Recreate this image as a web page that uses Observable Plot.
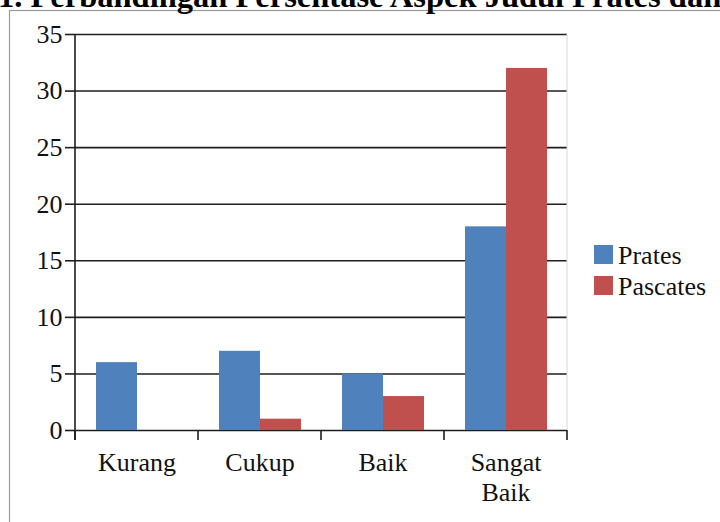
<!DOCTYPE html>
<html>
<head>
<meta charset="utf-8">
<script src="https://cdn.jsdelivr.net/npm/d3@7"></script>
<script src="https://cdn.jsdelivr.net/npm/@observablehq/plot@0.6"></script>
<style>
  html, body { margin: 0; padding: 0; background: #fff; overflow: hidden; }
  #chart { position: relative; width: 720px; height: 522px; }
</style>
</head>
<body>
<div id="chart"></div>
<script>
const title = "1. Perbandingan Persentase Aspek Judul Prates dan Pascates";
const categories = ["Kurang", "Cukup", "Baik", "Sangat Baik"];
const series = ["Prates", "Pascates"];
const prates = [6, 7, 5, 18];
const pascates = [0, 1, 3, 32];
const yTicks = [0, 5, 10, 15, 20, 25, 30, 35];
const colors = ["#4F81BD", "#C0504D"];

const data = [];
categories.forEach((c, i) => {
  data.push({category: c, series: "Prates", value: prates[i]});
  data.push({category: c, series: "Pascates", value: pascates[i]});
});

const chart = Plot.plot({
  width: 720,
  height: 522,
  marginLeft: 74,
  marginRight: 153,
  marginTop: 34,
  marginBottom: 92,
  style: {fontFamily: "'Liberation Serif', 'Times New Roman', serif", fontSize: "26px", color: "#111", background: "#fff"},
  fx: {domain: categories, padding: 0, label: null, axis: null},
  x: {domain: series, paddingInner: 0, paddingOuter: 0.5, axis: null},
  y: {domain: [0, 35], label: null, axis: null},
  color: {domain: series, range: colors},
  marks: [
    Plot.gridY(yTicks, {stroke: "#1e1e1e", strokeOpacity: 1, strokeWidth: 1.6}),
    Plot.barY(data, {fx: "category", x: "series", y: "value", fill: "series"}),
    Plot.axisY(yTicks, {tickSize: 10, tickPadding: 3, stroke: "#1e1e1e", strokeWidth: 1.6, label: null}),
    Plot.axisFx({anchor: "bottom", tickSize: 0, tickPadding: 19, lineHeight: 1.15, label: null,
                 tickFormat: d => d.replace(" ", "\n")})
  ]
});

document.getElementById("chart").appendChild(chart);

const svg = d3.select(chart);
const fx = chart.scale("fx");
const y = chart.scale("y");
const col = chart.scale("color");
const y0 = y.apply(0), yTop = y.apply(35);
const left = fx.apply(categories[0]);
const right = fx.apply(categories[categories.length - 1]) + fx.bandwidth;

// faint plot-area right border
svg.append("line").attr("x1", right).attr("x2", right).attr("y1", yTop).attr("y2", y0)
  .attr("stroke", "#d8d8d8").attr("stroke-width", 1);
// y axis line
svg.append("line").attr("x1", left).attr("x2", left).attr("y1", yTop).attr("y2", y0 + 10)
  .attr("stroke", "#1e1e1e").attr("stroke-width", 1.6);
// category boundary ticks
const bounds = categories.map(c => fx.apply(c)).concat([right]);
svg.selectAll(".btick").data(bounds).join("line")
  .attr("x1", d => d).attr("x2", d => d).attr("y1", y0).attr("y2", y0 + 10)
  .attr("stroke", "#1e1e1e").attr("stroke-width", 1.6);

// legend
const lg = svg.append("g").attr("text-anchor", "start");
series.forEach((s, i) => {
  lg.append("rect").attr("x", 594).attr("y", 245 + i * 31).attr("width", 19).attr("height", 19)
    .attr("fill", col.apply(s));
  lg.append("text").attr("x", 618).attr("y", 264 + i * 31).text(s)
    .attr("text-anchor", "start").attr("fill", "#111").style("font-size", "26px");
});

// outer border
svg.append("rect").attr("x", 9.5).attr("y", 10.5).attr("width", 800).attr("height", 600)
  .attr("fill", "none").attr("stroke", "#9a9a9a").attr("stroke-width", 1.2);

// clipped title
svg.append("text").attr("x", -2).attr("y", 7).text(title)
  .attr("text-anchor", "start")
  .style("font-size", "32.5px").style("font-weight", "bold").attr("fill", "#000");
</script>
</body>
</html>
